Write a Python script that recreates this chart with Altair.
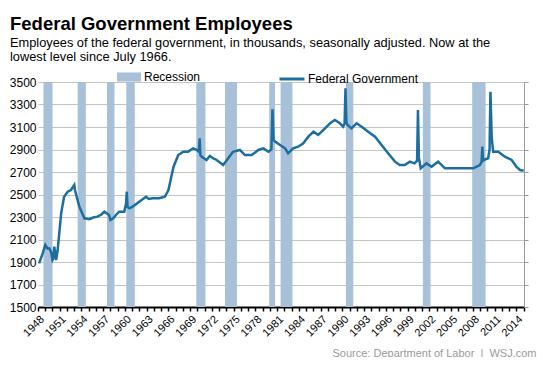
import altair as alt
import pandas as pd

FONT = "Liberation Sans"

# Federal government employees (thousands)
years = [1948.15, 1948.65, 1949.0, 1949.3, 1949.56, 1949.8, 1950.0, 1950.1, 1950.25, 1950.4,
         1950.5, 1950.7, 1951.2, 1951.6, 1952.1, 1952.55, 1953.0, 1953.1, 1953.7, 1954.4,
         1955.1, 1955.6, 1956.2, 1956.7, 1957.15, 1957.8, 1958.0, 1958.4, 1958.75, 1959.2,
         1959.9, 1960.15, 1960.25, 1960.35, 1960.6, 1961.05, 1961.97, 1962.9, 1963.3, 1963.8,
         1964.7, 1965.5, 1966.0, 1966.4, 1966.7, 1967.35, 1968.05, 1968.7, 1969.4, 1969.9,
         1970.2, 1970.3, 1970.4, 1970.6, 1971.25, 1971.7, 1972.2, 1972.65, 1973.55, 1974.25,
         1974.9, 1975.85, 1976.55, 1977.5, 1978.4, 1979.1, 1979.8, 1980.2, 1980.35, 1980.5,
         1980.7, 1981.4, 1982.1, 1982.5, 1983.2, 1983.9, 1984.6, 1985.3, 1986.0, 1986.65,
         1987.35, 1988.3, 1988.95, 1989.65, 1990.1, 1990.3, 1990.42, 1990.55, 1990.7, 1991.25,
         1991.95, 1992.65, 1993.55, 1994.5, 1995.4, 1996.3, 1997.25, 1997.9, 1998.6, 1999.3,
         1999.95, 2000.3, 2000.42, 2000.55, 2000.8, 2001.6, 2002.3, 2003.2, 2004.15, 2005.5,
         2006.9, 2008.05, 2008.95, 2009.2, 2009.3, 2009.4, 2009.55, 2010.1, 2010.3, 2010.42,
         2010.6, 2010.8, 2011.5, 2012.4, 2013.35, 2014.0, 2014.5, 2015.0]
values = [1888, 1977, 2051, 2020, 2022, 1990, 1918, 1930, 2036, 1960,
          1918, 2000, 2335, 2480, 2525, 2540, 2585, 2540, 2392, 2288,
          2280, 2295, 2303, 2320, 2347, 2318, 2273, 2290, 2318, 2347,
          2347, 2420, 2525, 2390, 2377, 2392, 2436, 2480, 2460, 2466,
          2466, 2480, 2540, 2660, 2747, 2851, 2880, 2880, 2910, 2896,
          2880, 2999, 2850, 2836, 2807, 2842, 2820, 2807, 2762, 2822,
          2880, 2896, 2851, 2851, 2896, 2910, 2880, 2900, 3257, 2990,
          2970, 2940, 2910, 2866, 2910, 2925, 2955, 3014, 3058, 3029,
          3073, 3133, 3162, 3133, 3103, 3130, 3444, 3140, 3118, 3088,
          3133, 3103, 3058, 3014, 2940, 2866, 2792, 2762, 2762, 2792,
          2777, 2800, 3251, 2830, 2733, 2777, 2747, 2792, 2733, 2733,
          2733, 2733, 2762, 2790, 2925, 2800, 2807, 2822, 2900, 3414,
          3000, 2880, 2880, 2836, 2807, 2747, 2718, 2712]

# Recession bands (start / end, decimal years)
rec_start = [1948.75, 1953.47, 1957.52, 1960.18, 1969.84, 1973.8, 1979.9, 1981.47, 1990.48, 2001.1, 2007.9]
rec_end = [1950.0, 1954.6, 1958.55, 1961.35, 1971.1, 1975.45, 1980.7, 1983.1, 1991.5, 2002.15, 2009.75]

y_ticks = list(range(1500, 3501, 200))
x_ticks = list(range(1948, 2016))

title_text = "Federal Government Employees"
subtitle_lines = ["Employees of the federal government, in thousands, seasonally adjusted. Now at the",
                  "lowest level since July 1966."]
source_text = "Source: Department of Labor\u00a0 |\u00a0 WSJ.com"

LINE_COLOR = "#1b6e9f"
BAND_COLOR = "#a8c1d9"

line_df = pd.DataFrame({"year": years, "value": values, "series": "Federal Government"})
rec_df = pd.DataFrame({"start": rec_start, "end": rec_end, "series": "Recession"})

xscale = alt.Scale(domain=[1948, 2015.05], nice=False, zero=False)
yscale = alt.Scale(domain=[1500, 3500], nice=False, zero=False)

xaxis = alt.Axis(values=x_ticks, format="d",
                 labelExpr="(datum.value - 1948) % 3 == 0 ? datum.label : ''",
                 labelAngle=-45, labelOverlap=False, labelFontSize=11, labelFont=FONT,
                 labelColor="black", labelPadding=2,
                 tickColor="black", tickSize=4, tickWidth=1.5,
                 domainColor="black", domainWidth=2, grid=False,
                 title=source_text, titleFont=FONT, titleFontSize=11, titleColor="#9a9a9a",
                 titleFontWeight="normal", titleX=498, titleY=46, titleAlign="right",
                 titleBaseline="middle")

bands = alt.Chart(rec_df).mark_rect(opacity=1).encode(
    x=alt.X("start:Q", scale=xscale, axis=xaxis),
    x2="end:Q",
    fill=alt.Fill("series:N", scale=alt.Scale(domain=["Recession"], range=[BAND_COLOR]),
                  legend=alt.Legend(title=None, orient="none", legendX=79, legendY=-17,
                                    symbolType="M-1,-0.38L1,-0.38L1,0.38L-1,0.38Z",
                                    symbolSize=576, symbolStrokeWidth=0, symbolOpacity=1,
                                    labelFont=FONT, labelFontSize=12, labelColor="black",
                                    labelOffset=3, padding=0)),
)

line = alt.Chart(line_df).mark_line(strokeWidth=2.5).encode(
    x=alt.X("year:Q", scale=xscale, axis=xaxis),
    y=alt.Y("value:Q", scale=yscale,
            axis=alt.Axis(values=y_ticks, format="d", domain=False, ticks=False, labelPadding=2,
                          labelFont=FONT, labelFontSize=12, labelColor="black",
                          gridColor="#c4c4c4", gridWidth=1, title=None)),
    stroke=alt.Stroke("series:N", scale=alt.Scale(domain=["Federal Government"], range=[LINE_COLOR]),
                      legend=alt.Legend(title=None, orient="none", legendX=240, legendY=-17,
                                        symbolType="stroke", symbolSize=625, symbolStrokeWidth=3,
                                        labelFont=FONT, labelFontSize=12, labelColor="black",
                                        labelOffset=2, padding=0)),
)

right = alt.Chart(line_df).mark_line(opacity=0).encode(
    x=alt.X("year:Q", scale=xscale, axis=xaxis),
    y=alt.Y("value:Q", scale=yscale,
            axis=alt.Axis(orient="right", values=y_ticks, labels=False, grid=False,
                          domainColor="#9a9a9a", domainWidth=1, tickColor="#9a9a9a",
                          tickSize=4, title=None)),
)

chart = alt.layer(bands, line, right).resolve_axis(y="independent").properties(
    width=486, height=225,
    autosize=alt.AutoSizeParams(type="none"),
    padding={"left": 30, "top": 74, "right": 15, "bottom": 50},
    title=alt.TitleParams(text=title_text, subtitle=subtitle_lines, anchor="start", frame="group",
                          dx=-28, font=FONT, fontSize=18.5, fontWeight="bold", color="black",
                          subtitleFont=FONT, subtitleFontSize=12.8, subtitleColor="black",
                          subtitleLineHeight=14.5, subtitlePadding=3, offset=1),
).configure_view(stroke=None)

chart.save("out.html", embed_options={"renderer": "svg", "actions": False})
